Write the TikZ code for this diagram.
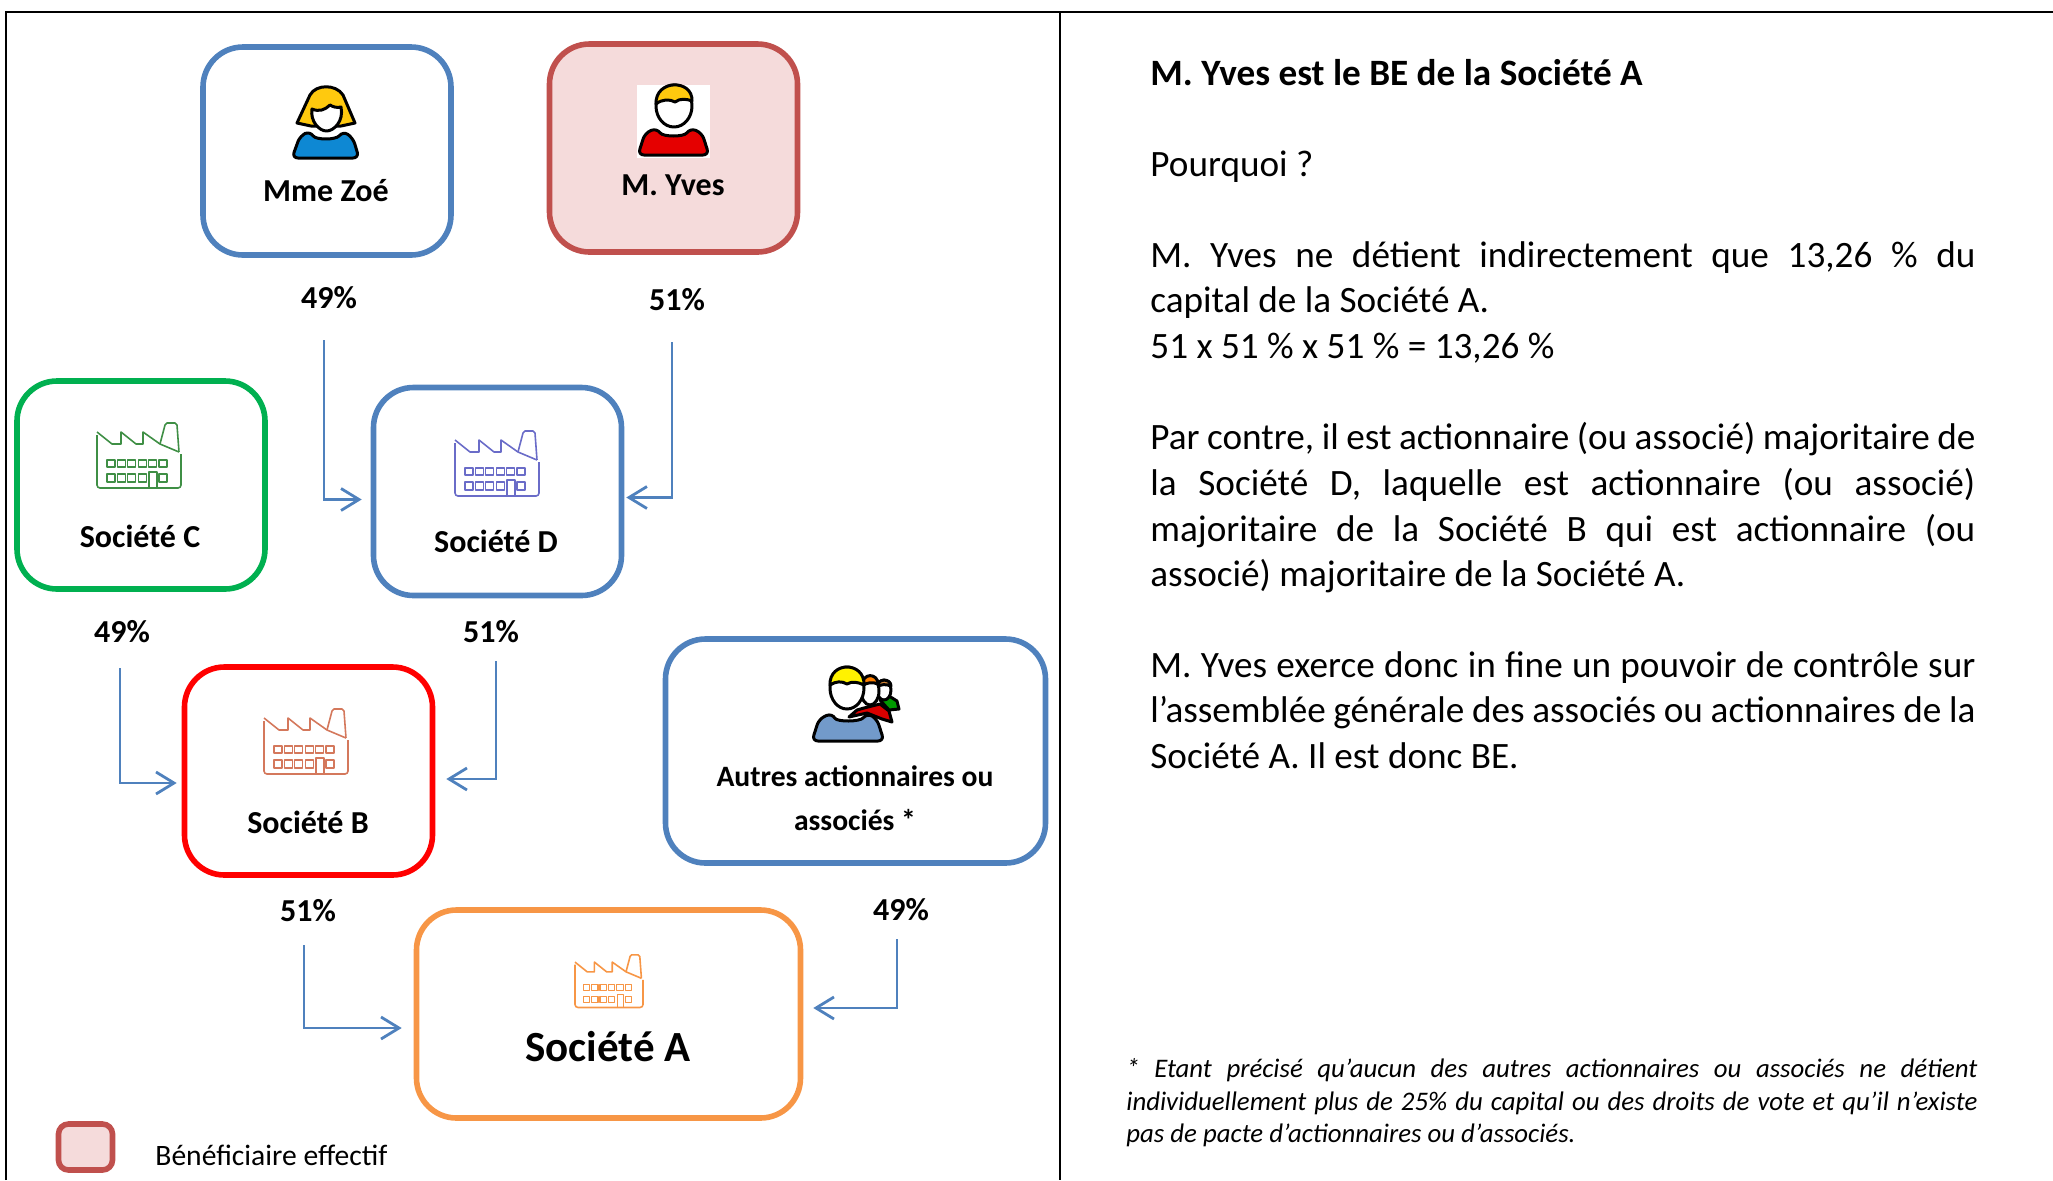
\documentclass[tikz,border=0pt]{standalone}
\usepackage{fontspec}
\setmainfont{Carlito}
\usetikzlibrary{arrows.meta}
\definecolor{bluebox}{HTML}{4F81BD}
\definecolor{redbox}{HTML}{C0504D}
\definecolor{pinkfill}{HTML}{F5DBDB}
\definecolor{greenbox}{HTML}{00B050}
\definecolor{orangebox}{HTML}{F79646}
\definecolor{hairyellow}{HTML}{FFC90E}
\definecolor{factgreen}{HTML}{3F8F45}
\definecolor{factblue}{HTML}{6A6CC8}
\definecolor{factred}{HTML}{D4785C}
\tikzset{
  frameline/.style={draw=black, line width=1pt},
  holder/.style={draw, rounded corners=20pt, line width=2.8pt, minimum width=124pt, minimum height=104pt, inner sep=0pt},
  wide/.style={minimum width=190pt, minimum height=112pt},
  widest/.style={minimum width=192pt},
  boxtext/.style={font=\fontsize{16}{18}\selectfont\bfseries, inner sep=0pt},
  autrestyle/.style={font=\fontsize{14.8}{18}\selectfont\bfseries, inner sep=0pt},
  bigtext/.style={font=\fontsize{21.5}{24}\selectfont\bfseries, inner sep=0pt},
  percent/.style={font=\fontsize{16}{18}\selectfont\bfseries, inner sep=0pt},
  link/.style={-{Straight Barb[length=9pt,width=11pt]}, draw=bluebox, line width=1.4pt},
  para/.style={anchor=north west, inner sep=0pt, text width=412.5pt, align=justify, font=\fontsize{18.6}{22.85}\selectfont},
  notepara/.style={anchor=north west, inner sep=0pt, text width=425.5pt, align=justify, font=\fontsize{13.4}{16.35}\selectfont\itshape},
  ink/.style={draw=black, line width=1.5pt, line join=round},
  pics/factory/.style={code={
    \begin{scope}[draw=#1, line width=.8pt, line join=round]
    \draw (0,10) -- (15,22) -- (24,22) -- (24,10) -- (39,22) -- (46,22) -- (46,10) -- (63,22) -- (82,30);
    \draw (63,22) -- (68,3) -- (70,1) -- (78,1) -- (80,3) -- (82,30);
    \draw[rounded corners=1.5pt] (0,13) -- (0,66) -- (84,66) -- (84,32);
    \foreach \i in {0,...,5} \draw[line width=.55pt] (10+10.4*\i,38) rectangle +(8,7);
    \foreach \i in {0,...,3,5} \draw[line width=.55pt] (10+10.4*\i,52) rectangle +(8,8);
    \draw[line width=.55pt] (52,66) -- (52,50) -- (60,50) -- (60,66);
    \end{scope}
  }},
  pics/madame/.style={code={
    \draw[ink, fill=#1, rounded corners=3pt] (0,71) -- (8,49) -- (18,44) .. controls (24,53) and (44,53) .. (51,44) -- (61,51) -- (67,71) -- cycle;
    \draw[ink, fill=hairyellow] (5,36) -- (18,8) .. controls (24,-3) and (44,-3) .. (51,8) -- (63,36) -- (49,39) -- (19,39) -- cycle;
    \draw[ink, fill=white] (20,22) .. controls (27,25) and (33,23) .. (38,18) .. controls (41,20) and (45,21) .. (49,20) .. controls (52,34) and (42,44) .. (34.5,44) .. controls (27,44) and (18,34) .. (20,22) -- cycle;
  }},
  pics/monsieur/.style={code={
    \draw[ink, fill=#1, rounded corners=3pt] (0,70) -- (7,48) -- (19,43) .. controls (25,52) and (46,52) .. (52,43) -- (64,48) -- (71,70) -- cycle;
    \draw[ink, fill=white] (36,21) ellipse [x radius=18, y radius=21];
    \draw[ink, fill=hairyellow] (18,19) .. controls (17,-6) and (55,-6) .. (54,16) .. controls (49,14) and (42,13) .. (37,17) .. controls (32,14) and (24,14) .. (18,19) -- cycle;
  }},
  pics/crowd/.style={code={
    \draw[ink, fill=green!60!black] (68,33) -- (77,29) -- (85,34) -- (87,42) -- (77,43) -- cycle;
    \draw[ink, fill=white] (72,23) ellipse [x radius=7, y radius=10];
    \draw[ink, fill=brown!80!orange] (65,20) .. controls (65,11) and (79,11) .. (79,19) .. controls (74,17) and (69,17) .. (65,20) -- cycle;
    \draw[ink, fill=red!85!black] (37,50) -- (45,43) -- (52,41) -- (68,37) -- (77,44) -- (80,55) -- (70,52) -- (55,46) -- cycle;
    \draw[ink, fill=white] (58,24) ellipse [x radius=9, y radius=14];
    \draw[ink, fill=orange] (50,19) .. controls (50,5) and (66,6) .. (66,17) .. controls (61,15) and (55,15) .. (50,19) -- cycle;
    \draw[ink, fill=#1, rounded corners=3pt] (0,74) -- (7,52) -- (20,46) .. controls (25,55) and (48,55) .. (55,46) -- (65,52) -- (72,74) -- cycle;
    \draw[ink, fill=white] (35,21) ellipse [x radius=17, y radius=21];
    \draw[ink, fill=yellow] (18,18) .. controls (17,-6) and (53,-6) .. (52,18) .. controls (46,15) and (40,14) .. (35,17) .. controls (30,14) and (24,14) .. (18,18) -- cycle;
  }},
}
\begin{document}
\begin{tikzpicture}[x=.5pt, y=-.5pt]
\useasboundingbox (0,0) rectangle (2053,1180);
%Frame
\coordinate (topleft) at (6,12);
\coordinate (topright) at (2053,12);
\coordinate (botleft) at (6,1180);
\coordinate (midtop) at (1060,12);
\coordinate (midbot) at (1060,1180);
\draw[frameline] (botleft) -- (topleft) -- (topright);
\draw[frameline] (midtop) -- (midbot);

%Nodes
\node[holder, bluebox] (zoe) at (327,151) {};
\node[holder, redbox, fill=pinkfill] (yves) at (673.5,148) {};
\node[holder, greenbox] (socc) at (141,485) {};
\node[holder, bluebox] (socd) at (497.5,491.5) {};
\node[holder, red] (socb) at (308.5,771) {};
\node[holder, wide, bluebox] (autres) at (855.5,751) {};
\node[holder, widest, orangebox] (soca) at (608.5,1014) {};
\node[draw=redbox, fill=pinkfill, rounded corners=5pt, line width=2.8pt, minimum width=27pt, minimum height=23pt] (legend) at (85.5,1147) {};

%Icons
\pic at (292,87) {madame=cyan!70!blue};
\fill[white] (637,85) rectangle (710,158);
\pic at (638,85) {monsieur=red!90!black};
\pic at (812,667) {crowd=bluebox!80!white};
\pic at (97,422) {factory=factgreen};
\pic at (455,430) {factory=factblue};
\pic at (264,708) {factory=factred};
\pic[scale=.81] at (575,954) {factory=orangebox};

%Labels
\node[boxtext] (zoetext) at (326,191) {Mme Zoé};
\node[boxtext] (yvestext) at (673,185) {M. Yves};
\node[boxtext] (socctext) at (140,536) {Société C};
\node[boxtext] (socdtext) at (496,541) {Société D};
\node[boxtext] (socbtext) at (308,822) {Société B};
\node[autrestyle] (autrestext) at (855,776) {Autres actionnaires ou};
\node[autrestyle] (autrestextb) at (855,820) {associés *};
\node[bigtext] (socatext) at (608,1047) {Société A};
\node[percent] (pctzoe) at (329,298) {49\%};
\node[percent] (pctyves) at (677,300) {51\%};
\node[percent] (pctc) at (122,632) {49\%};
\node[percent] (pctd) at (491,632) {51\%};
\node[percent] (pctb) at (308,911) {51\%};
\node[percent] (pctautres) at (901,910) {49\%};
\node[inner sep=0pt, anchor=base west, font=\fontsize{14.8}{18}\selectfont] (legendtext) at (155,1165) {Bénéficiaire effectif};

%Lines
\coordinate (zoeout) at (324,340);
\coordinate (yvesout) at (672,342);
\coordinate (soccout) at (120,668);
\coordinate (socdout) at (496,661);
\coordinate (socbout) at (304,945);
\coordinate (autresout) at (897,939);
\draw[link] (zoeout) |- ([shift={(-9,8)}]socd.west);
\draw[link] (yvesout) |- ([shift={(2,6)}]socd.east);
\draw[link] (soccout) |- ([shift={(-5,12)}]socb.west);
\draw[link] (socdout) |- ([shift={(11,8)}]socb.east);
\draw[link] (socbout) |- ([shift={(-12,14)}]soca.west);
\draw[link] (autresout) |- ([shift={(10,-6)}]soca.east);

%Text on the right
\node[para, font=\fontsize{18.6}{22.85}\selectfont\bfseries] (title) at (1150,59) {M. Yves est le BE de la Société A};
\node[para] (why) at (1150,150) {Pourquoi ?};
\node[para] (parta) at (1150,241) {M. Yves ne détient indirectement que 13,26 \% du\linebreak capital de la Société A.\\ 51 x 51 \% x 51 \% = 13,26 \%};
\node[para] (partb) at (1150,422) {Par contre, il est actionnaire (ou associé) majoritaire de\linebreak la Société D, laquelle est actionnaire (ou associé)\linebreak majoritaire de la Société B qui est actionnaire (ou\linebreak associé) majoritaire de la Société A.};
\node[para] (partc) at (1150,651) {M. Yves exerce donc in fine un pouvoir de contrôle sur\linebreak l’assemblée générale des associés ou actionnaires de la\linebreak Société A. Il est donc BE.};
\node[notepara] (note) at (1126,1058) {* Etant précisé qu’aucun des autres actionnaires ou associés ne détient\linebreak individuellement plus de 25\% du capital ou des droits de vote et qu’il n’existe\linebreak pas de pacte d’actionnaires ou d’associés.};
\end{tikzpicture}
\end{document}
